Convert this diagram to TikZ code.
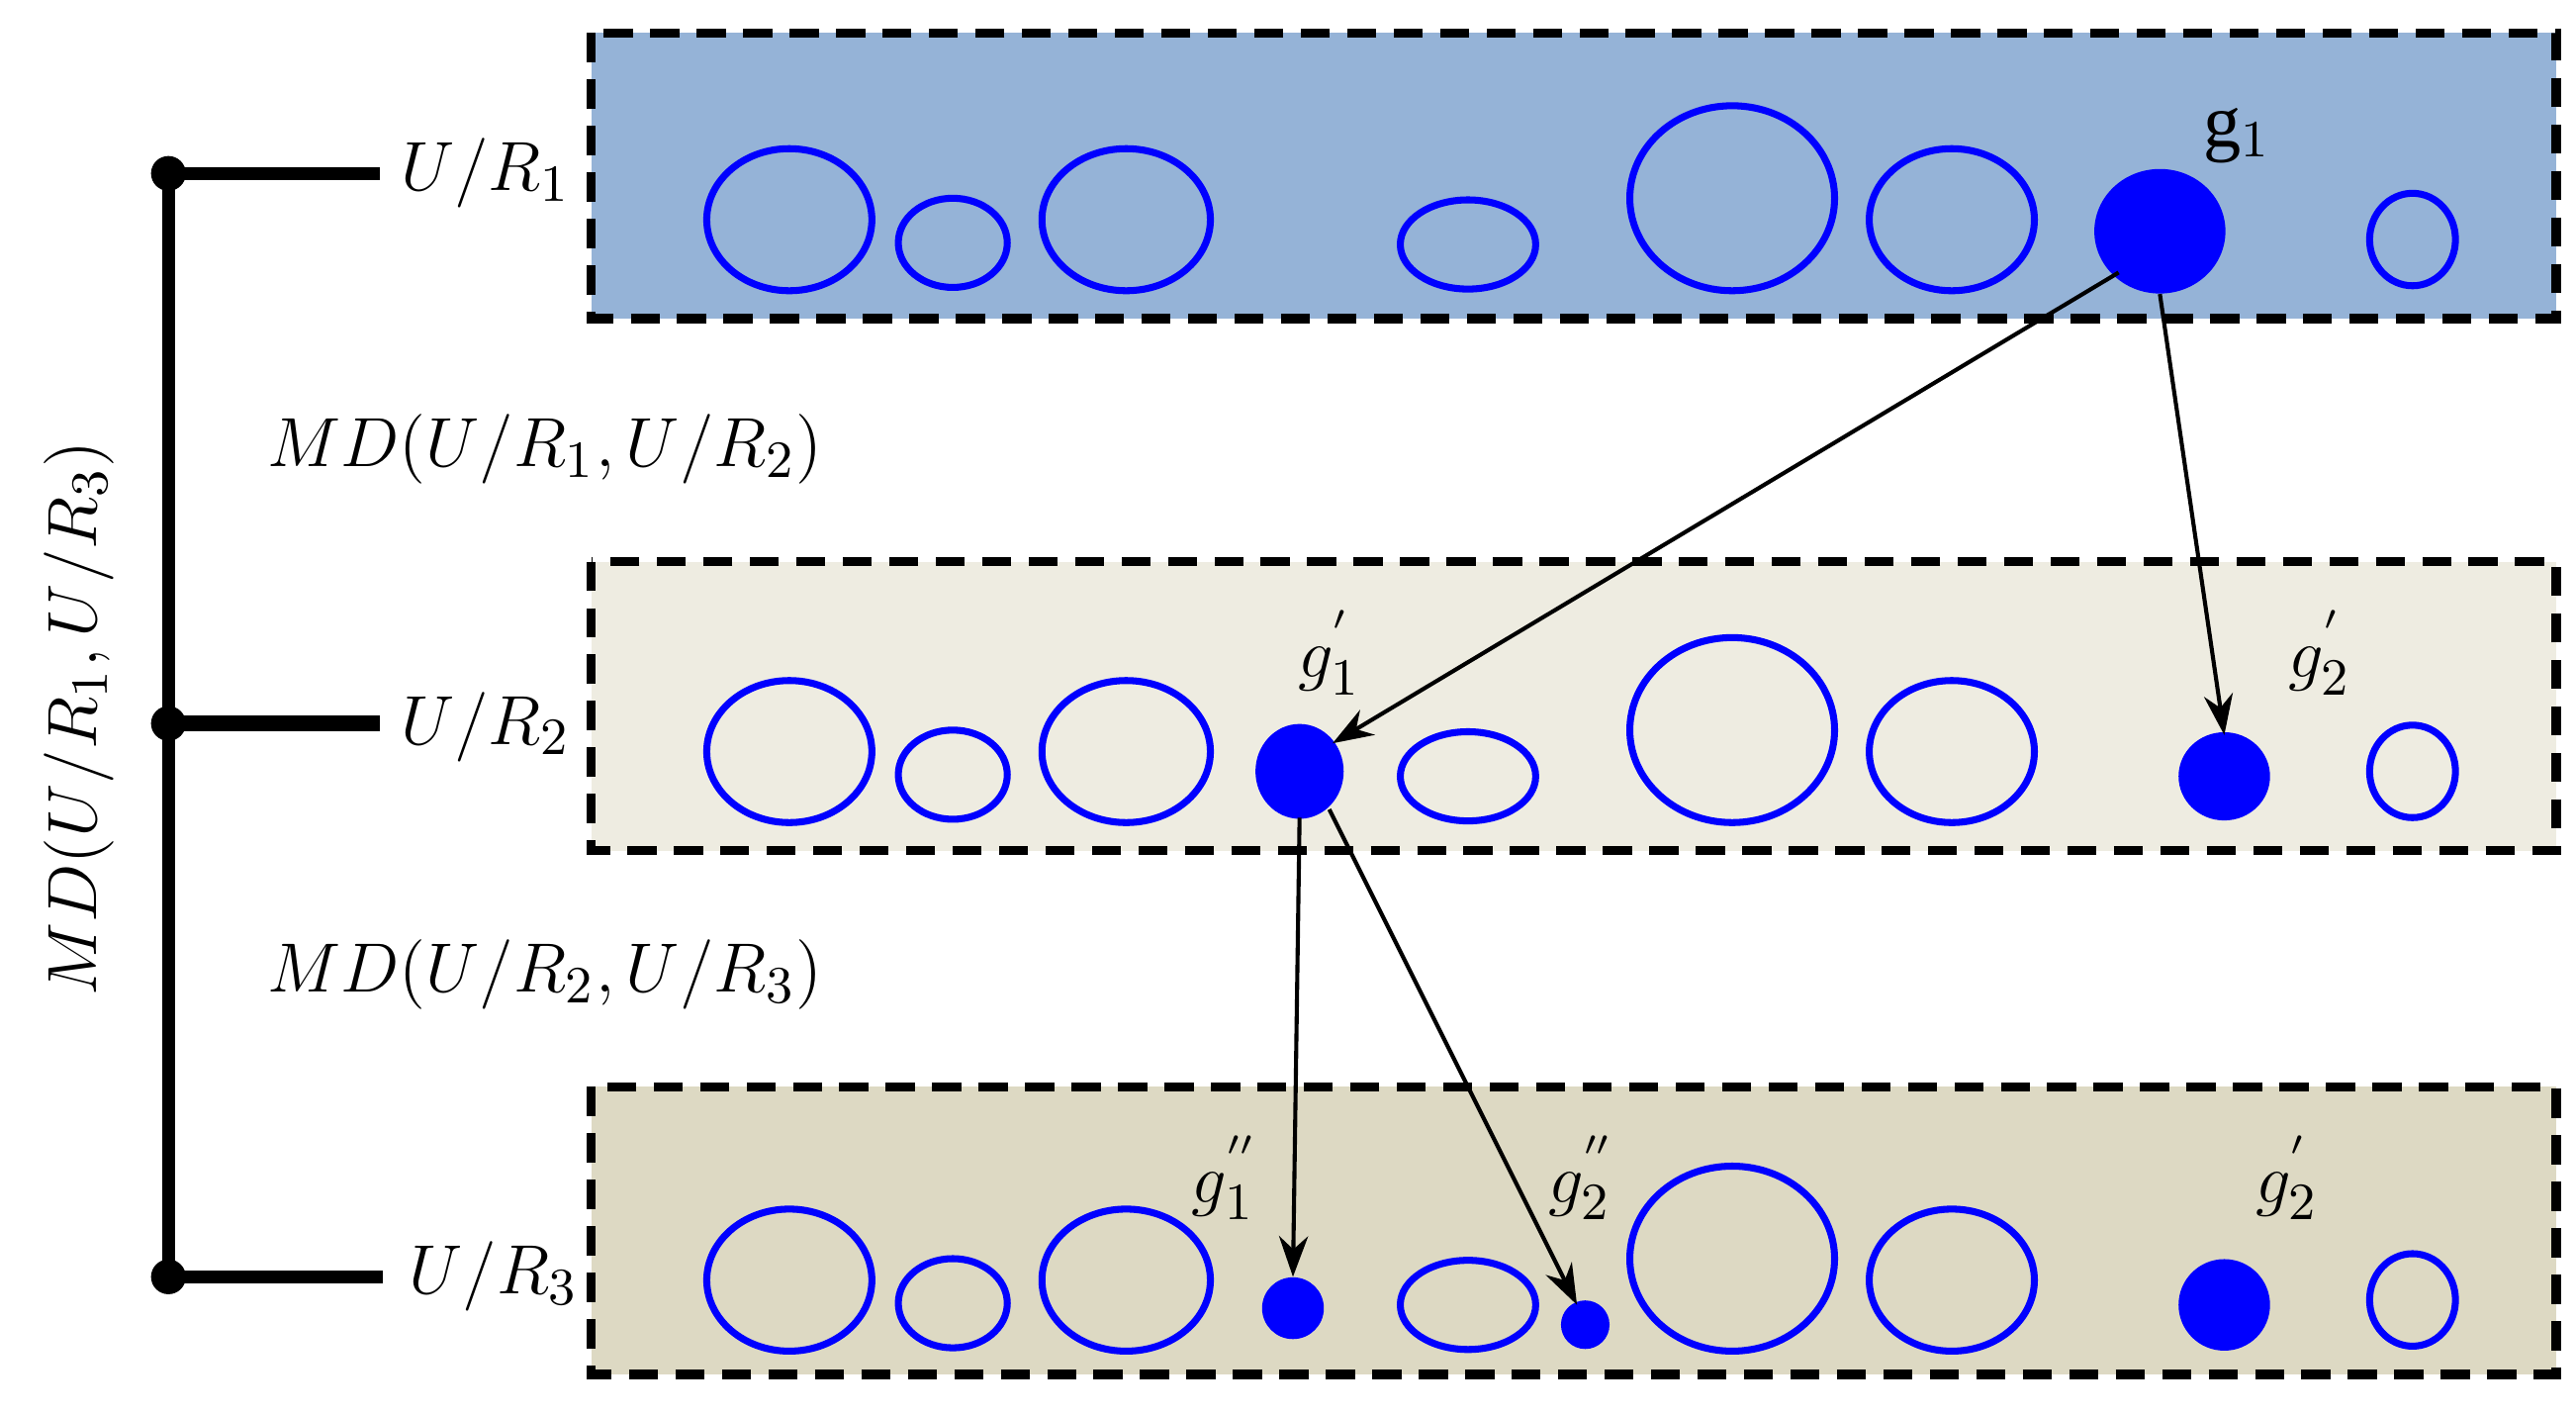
\documentclass[tikz,border=0pt]{standalone}
\usepackage{fontspec}
\setmainfont{Liberation Serif}
\usetikzlibrary{arrows.meta}
\begin{document}
\begin{tikzpicture}[x=0.01cm,y=-0.01cm,
  band/.style={draw=black,line width=1.6pt,dash pattern=on 5pt off 3pt},
  cl/.style={draw=blue,line width=1.2pt},
  dot/.style={fill=blue,draw=blue},
  arr/.style={-{Stealth[length=7pt,width=5pt]},line width=0.7pt},
  lab/.style={font=\fontsize{13}{16}\selectfont},
  pt/.style={circle,fill=black,inner sep=0pt,minimum size=6pt}]
\useasboundingbox (0,0) rectangle (1560,857);
\definecolor{bA}{HTML}{95B3D7}\definecolor{bB}{HTML}{EEECE1}\definecolor{bC}{HTML}{DDD9C3}
\fill[bA] (358,20) rectangle (1548,193); \draw[band] (358,20) rectangle (1548,193);
\fill[bB] (358,340) rectangle (1548,515); \draw[band] (358,340) rectangle (1548,515);
\fill[bC] (358,658) rectangle (1548,832); \draw[band] (358,658) rectangle (1548,832);
\foreach \dy in {0,322,642}{
  \draw[cl] (478,133+\dy) ellipse [x radius=50,y radius=43];
  \draw[cl] (577,147+\dy) ellipse [x radius=33,y radius=27];
  \draw[cl] (682,133+\dy) ellipse [x radius=51,y radius=43];
  \draw[cl] (889,148+\dy) ellipse [x radius=41,y radius=27];
  \draw[cl] (1049,120+\dy) ellipse [x radius=62,y radius=56];
  \draw[cl] (1182,133+\dy) ellipse [x radius=50,y radius=43];
  \draw[cl] (1461,145+\dy) ellipse [x radius=26,y radius=28];
}
\draw[dot] (1308,140) ellipse [x radius=39,y radius=37];
\coordinate (g1) at (1308,140);
\draw[dot] (787,467) ellipse [x radius=26,y radius=28];
\coordinate (g1p) at (787,467);
\draw[dot] (1347,470) ellipse [x radius=27,y radius=26];
\coordinate (g2p) at (1347,470);
\draw[dot] (783,792) circle (18); \coordinate (g1pp) at (783,792);
\draw[dot] (960,802) circle (14); \coordinate (g2pp) at (960,802);
\draw[dot] (1347,790) circle (27); \coordinate (g2q) at (1347,790);
\node[lab] (lg1) at (1355,82) {g$_1$};
\node[lab] (lg1p) at (805,395) {$g_1^{'}$};
\node[lab] (lg2p) at (1405,395) {$g_2^{'}$};
\node[lab] (lg1pp) at (742,713) {$g_1^{''}$};
\node[lab] (lg2pp) at (958,713) {$g_2^{''}$};
\node[lab] (lg2q) at (1385,713) {$g_2^{'}$};
\draw[arr] (1283,165) -- (807,450);
\draw[arr] (1308,178) -- (1347,445);
\draw[arr] (787,495) -- (783,773);
\draw[arr] (805,490) -- (955,790);
\node[pt] (p1) at (102,105) {}; \node[pt] (p2) at (102,438) {}; \node[pt] (p3) at (102,773) {};
\draw[line width=2.2pt] (p1.center) -- (p3.center);
\node[lab,anchor=west,inner sep=2pt] (u1) at (235,105) {$U/R_1$};
\node[lab,anchor=west,inner sep=2pt] (u2) at (235,440) {$U/R_2$};
\node[lab,anchor=west,inner sep=2pt] (u3) at (240,773) {$U/R_3$};
\draw[line width=2.2pt] (p1.center) -- (230,105);
\draw[line width=2.8pt] (p2.center) -- (230,438);
\draw[line width=2.2pt] (p3.center) -- (232,773);
\node[lab] (m12) at (330,272) {$MD(U/R_1,U/R_2)$};
\node[lab] (m23) at (330,590) {$MD(U/R_2,U/R_3)$};
\node[lab,rotate=90] (m13) at (48,435) {$MD(U/R_1,U/R_3)$};
\end{tikzpicture}
\end{document}
